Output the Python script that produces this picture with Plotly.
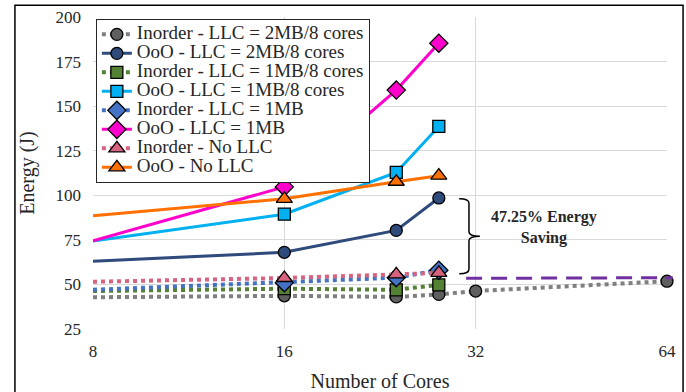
import plotly.graph_objects as go

cores4 = [8, 16, 24, 28]
cores6 = [8, 16, 24, 28, 32, 64]

inorder_2mb8 = [42.8, 43.6, 43.0, 44.4, 46.3, 51.8]
ooo_2mb8 = [63.0, 68.0, 80.3, 98.5]
inorder_1mb8 = [46.3, 47.6, 47.0, 49.8]
ooo_1mb8 = [74.4, 89.4, 112.8, 138.6]
inorder_1mb = [47.0, 51.0, 53.8, 58.0]
ooo_1mb = [74.4, 104.7, 159.0, 185.3]
inorder_nollc = [51.5, 53.6, 55.6, 56.5]
ooo_nollc = [88.5, 98.0, 107.6, 111.0]

names = ["Inorder - LLC = 2MB/8 cores", "OoO - LLC = 2MB/8 cores",
         "Inorder - LLC = 1MB/8 cores", "OoO - LLC = 1MB/8 cores",
         "Inorder - LLC = 1MB", "OoO - LLC = 1MB",
         "Inorder - No LLC", "OoO - No LLC"]

x_ticks = [8, 16, 32, 64]
y_ticks = [25, 50, 75, 100, 125, 150, 175, 200]

ref_level = [53.4, 53.8]   # purple dashed reference line
brace_top, brace_mid, brace_bot = 98.0, 77.0, 56.0
annot_text = "47.25% Energy<br>Saving"

series = [
    (cores6, inorder_2mb8, "#7F7F7F", "#5F5F5F", "circle", "dot", 12),
    (cores4, ooo_2mb8, "#2F4B7C", "#2F4B7C", "circle", "solid", 12),
    (cores4, inorder_1mb8, "#548235", "#548235", "square", "dot", 12),
    (cores4, ooo_1mb8, "#00B0F0", "#00B0F0", "square", "solid", 12),
    (cores4, inorder_1mb, "#4472C4", "#4472C4", "diamond", "dot", 14),
    (cores4, ooo_1mb, "#FF00CC", "#FF00CC", "diamond", "solid", 14),
    (cores4, inorder_nollc, "#D9627F", "#D9627F", "triangle-up", "dot", 14),
    (cores4, ooo_nollc, "#FF7000", "#FF7000", "triangle-up", "solid", 14),
]

font_family = "Liberation Serif"

fig = go.Figure()
for (xs, ys, lc, mc, sym, dash, ms), nm in zip(series, names):
    fig.add_trace(go.Scatter(
        x=xs, y=ys,
        name=f'<span style="font-size:19px;font-family:{font_family}">{nm}</span>',
        mode="lines+markers",
        line=dict(color=lc, width=4 if dash == "dot" else 3, dash=dash),
        marker=dict(symbol=sym, size=ms, color=mc,
                    line=dict(color="black", width=1.3)),
        cliponaxis=False))

fig.update_layout(
    width=686, height=392,
    margin=dict(l=93, r=19, t=17, b=63),
    paper_bgcolor="white", plot_bgcolor="white",
    font=dict(family=font_family, color="#262626", size=16),
    showlegend=True,
    legend=dict(x=0.005, y=0.994, xanchor="left", yanchor="top",
                bgcolor="white", bordercolor="#262626", borderwidth=1,
                font=dict(size=11.5, color="#262626", family=font_family),
                tracegroupgap=0, itemwidth=30),
    xaxis=dict(type="log", range=[0.90309, 1.80618], tickvals=x_ticks,
               ticktext=[str(v) for v in x_ticks], showgrid=True,
               gridcolor="#D9D9D9", gridwidth=1, zeroline=False,
               showline=False, ticks="", tickfont=dict(size=17),
               ticklabelstandoff=10, automargin=False,
               title=dict(text="Number of Cores", font=dict(size=20))),
    yaxis=dict(range=[25, 200], tickvals=y_ticks, showgrid=True,
               gridcolor="#D9D9D9", gridwidth=1, zeroline=False,
               showline=False, ticks="", tickfont=dict(size=17),
               ticklabelstandoff=11, automargin=False,
               title=dict(text="Energy (J)", font=dict(size=20))),
)

# purple dashed reference line
fig.add_shape(type="line", xref="paper", yref="y", x0=0.65, x1=1.01,
              y0=ref_level[0], y1=ref_level[1],
              line=dict(color="#7030A0", width=3, dash="16px,9px"))

# curly brace
xa, xb, xc = 0.638, 0.655, 0.674
path = (f"M {xa},{brace_top} Q {xb},{brace_top} {xb},{brace_top-2.5} "
        f"L {xb},{brace_mid+2.5} Q {xb},{brace_mid} {xc},{brace_mid} "
        f"Q {xb},{brace_mid} {xb},{brace_mid-2.5} "
        f"L {xb},{brace_bot+2.5} Q {xb},{brace_bot} {xa},{brace_bot}")
fig.add_shape(type="path", xref="paper", yref="y", path=path,
              line=dict(color="black", width=1.5))

fig.add_annotation(xref="paper", yref="y", x=0.785, y=82, xanchor="center",
                   yanchor="middle", text="<b>" + annot_text + "</b>",
                   showarrow=False, font=dict(size=16, color="#262626", family=font_family),
                   align="center")

# outer chart border
fig.add_shape(type="rect", xref="paper", yref="paper",
              x0=-0.136, x1=1.028, y0=-0.3, y1=1.038,
              line=dict(color="black", width=1.5), layer="above")

fig.write_html("out.html", config={"displayModeBar": False},
               post_script="document.body.style.margin='0';")
